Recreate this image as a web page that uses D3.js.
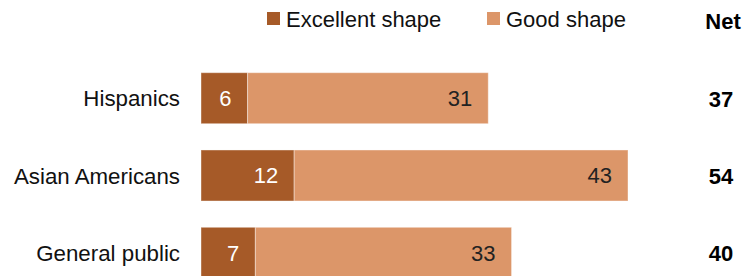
<!DOCTYPE html>
<html>
<head>
<meta charset="utf-8">
<script src="https://cdn.jsdelivr.net/npm/d3@7"></script>
<style>
  body { margin: 0; background: #fff; }
  text { font-family: "Liberation Sans", Arial, sans-serif; }
</style>
</head>
<body>
<div id="chart"></div>
<script>
var svgWidth = 750;
var svgHeight = 276;

// data
var categories = ["Hispanics", "Asian Americans", "General public"];
var excellent = [6, 12, 7];
var good = [31, 43, 33];
var net = [37, 54, 40];
var seriesNames = ["Excellent shape", "Good shape"];
var colors = ["#a65a28", "#dc9669"];

var svg = d3.select("#chart")
    .append("svg")
    .attr("width", svgWidth)
    .attr("height", svgHeight);

var xScale = d3.scaleLinear()
    .domain([0, 55])
    .range([201, 628]);

var yScale = d3.scaleBand()
    .domain(categories)
    .range([72.7, 278.3])
    .paddingInner(0.34)
    .paddingOuter(0);

var rows = categories.map(function (c, i) {
    return { cat: c, exc: excellent[i], good: good[i], net: net[i] };
});

// legend
var legendX = [267, 487];
var legend = svg.selectAll(".legend")
    .data(seriesNames)
    .enter()
    .append("g")
    .attr("class", "legend")
    .attr("transform", (d, i) => `translate(${legendX[i]}, 12)`);

legend.append("rect")
    .attr("width", 13)
    .attr("height", 13)
    .attr("fill", (d, i) => colors[i]);

legend.append("text")
    .attr("x", 19)
    .attr("y", 15)
    .attr("font-size", "22px")
    .attr("fill", "#111")
    .text(d => d);

svg.append("text")
    .attr("x", 723)
    .attr("y", 29)
    .attr("text-anchor", "middle")
    .attr("font-size", "22px")
    .attr("font-weight", "bold")
    .attr("fill", "#000")
    .text("Net");

// bars
var barGroup = svg.selectAll(".row")
    .data(rows)
    .enter()
    .append("g")
    .attr("class", "row");

barGroup.append("rect")
    .attr("x", xScale(0))
    .attr("y", d => yScale(d.cat))
    .attr("width", d => xScale(d.exc) - xScale(0))
    .attr("height", yScale.bandwidth())
    .attr("fill", colors[0])
    .attr("stroke", "#fff")
    .attr("stroke-opacity", 0.4)
    .attr("stroke-width", 1);

barGroup.append("rect")
    .attr("x", d => xScale(d.exc))
    .attr("y", d => yScale(d.cat))
    .attr("width", d => xScale(d.exc + d.good) - xScale(d.exc))
    .attr("height", yScale.bandwidth())
    .attr("fill", colors[1])
    .attr("stroke", "#fff")
    .attr("stroke-opacity", 0.4)
    .attr("stroke-width", 1);

// value labels
barGroup.append("text")
    .attr("x", d => xScale(d.exc) - 16)
    .attr("y", d => yScale(d.cat) + yScale.bandwidth() / 2)
    .attr("dy", "0.36em")
    .attr("text-anchor", "end")
    .attr("font-size", "22px")
    .attr("fill", "#fff")
    .text(d => d.exc);

barGroup.append("text")
    .attr("x", d => xScale(d.exc + d.good) - 16)
    .attr("y", d => yScale(d.cat) + yScale.bandwidth() / 2)
    .attr("dy", "0.36em")
    .attr("text-anchor", "end")
    .attr("font-size", "22px")
    .attr("fill", "#222")
    .text(d => d.good);

// category labels
barGroup.append("text")
    .attr("x", 180)
    .attr("y", d => yScale(d.cat) + yScale.bandwidth() / 2)
    .attr("dy", "0.36em")
    .attr("text-anchor", "end")
    .attr("font-size", "22.3px")
    .attr("fill", "#111")
    .text(d => d.cat);

// net column
barGroup.append("text")
    .attr("x", 721)
    .attr("y", d => yScale(d.cat) + yScale.bandwidth() / 2)
    .attr("dy", "0.38em")
    .attr("text-anchor", "middle")
    .attr("font-size", "22px")
    .attr("font-weight", "bold")
    .attr("fill", "#000")
    .text(d => d.net);
</script>
</body>
</html>
